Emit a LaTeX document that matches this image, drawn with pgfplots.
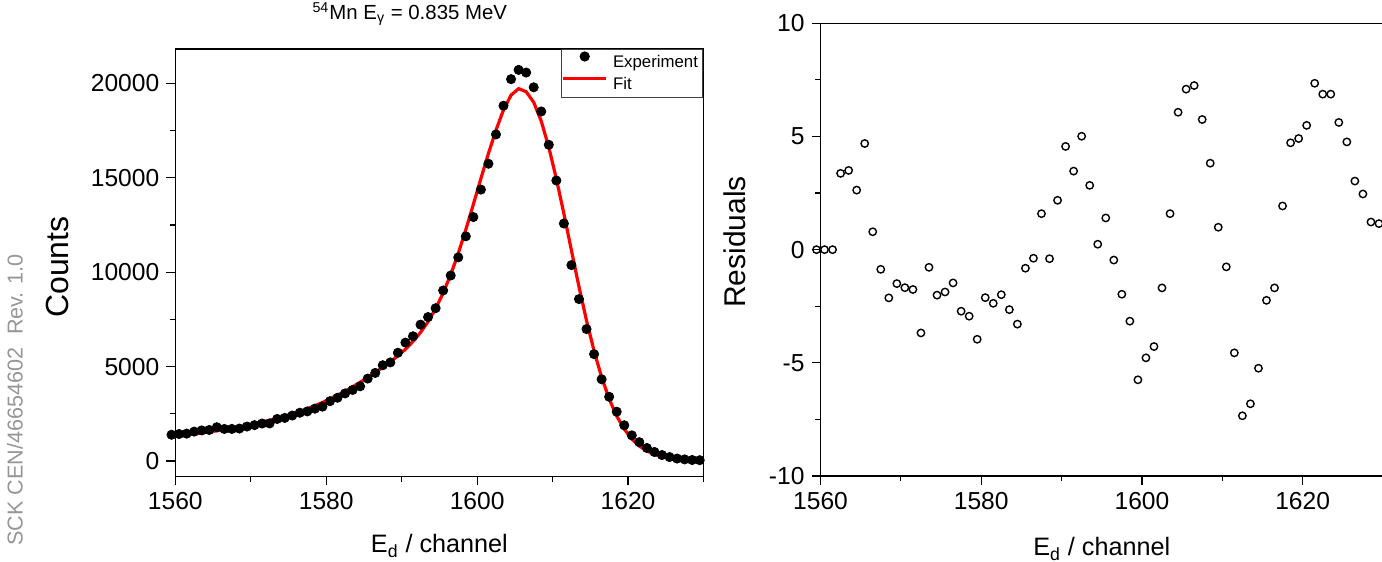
\documentclass[border=0pt]{standalone}
\usepackage{fontspec}
\setmainfont{Liberation Sans}
\usepackage{pgfplots}
\usepackage{pgfplotstable}
\pgfplotsset{compat=1.18}
\definecolor{sidegray}{RGB}{150,150,150}
\definecolor{fitred}{RGB}{255,0,0}

\pgfplotstableread{
x y
1559.5 1390
1560.5 1430
1561.5 1450
1562.5 1557
1563.5 1620
1564.5 1643
1565.5 1788
1566.5 1697
1567.5 1699
1568.5 1719
1569.5 1825
1570.5 1900
1571.5 1985
1572.5 1989
1573.5 2228
1574.5 2282
1575.5 2407
1576.5 2555
1577.5 2627
1578.5 2771
1579.5 2879
1580.5 3168
1581.5 3350
1582.5 3579
1583.5 3764
1584.5 3957
1585.5 4365
1586.5 4664
1587.5 5072
1588.5 5221
1589.5 5733
1590.5 6271
1591.5 6606
1592.5 7223
1593.5 7624
1594.5 8092
1595.5 9032
1596.5 9824
1597.5 10784
1598.5 11900
1599.5 12920
1600.5 14375
1601.5 15744
1602.5 17296
1603.5 18817
1604.5 20225
1605.5 20715
1606.5 20574
1607.5 19792
1608.5 18513
1609.5 16748
1610.5 14857
1611.5 12578
1612.5 10375
1613.5 8576
1614.5 6988
1615.5 5659
1616.5 4327
1617.5 3401
1618.5 2610
1619.5 1892
1620.5 1358
1621.5 997
1622.5 688
1623.5 478
1624.5 315
1625.5 208
1626.5 130
1627.5 85
1628.5 53
1629.5 42
}\expdata

\pgfplotstableread{
x y
1559.5 1280
1560.5 1330
1561.5 1380
1562.5 1430
1563.5 1485
1564.5 1540
1565.5 1600
1566.5 1665
1567.5 1735
1568.5 1810
1569.5 1890
1570.5 1975
1571.5 2065
1572.5 2160
1573.5 2265
1574.5 2380
1575.5 2500
1576.5 2630
1577.5 2770
1578.5 2930
1579.5 3100
1580.5 3290
1581.5 3490
1582.5 3700
1583.5 3930
1584.5 4170
1585.5 4420
1586.5 4690
1587.5 4960
1588.5 5250
1589.5 5570
1590.5 5920
1591.5 6330
1592.5 6810
1593.5 7380
1594.5 8070
1595.5 8900
1596.5 9870
1597.5 10990
1598.5 12250
1599.5 13590
1600.5 14960
1601.5 16290
1602.5 17520
1603.5 18600
1604.5 19380
1605.5 19720
1606.5 19560
1607.5 19000
1608.5 18000
1609.5 16620
1610.5 14950
1611.5 13100
1612.5 11150
1613.5 9230
1614.5 7440
1615.5 5830
1616.5 4440
1617.5 3290
1618.5 2380
1619.5 1690
1620.5 1170
1621.5 790
1622.5 530
1623.5 350
1624.5 230
1625.5 150
1626.5 100
1627.5 65
1628.5 45
1629.5 35
}\fitdata

\pgfplotstableread{
x r
1559.5 0
1560.5 0
1561.5 0
1562.5 3.37
1563.5 3.50
1564.5 2.63
1565.5 4.69
1566.5 0.79
1567.5 -0.87
1568.5 -2.13
1569.5 -1.50
1570.5 -1.68
1571.5 -1.76
1572.5 -3.68
1573.5 -0.78
1574.5 -2.01
1575.5 -1.87
1576.5 -1.47
1577.5 -2.72
1578.5 -2.94
1579.5 -3.96
1580.5 -2.12
1581.5 -2.37
1582.5 -1.99
1583.5 -2.65
1584.5 -3.29
1585.5 -0.82
1586.5 -0.38
1587.5 1.59
1588.5 -0.40
1589.5 2.18
1590.5 4.56
1591.5 3.47
1592.5 5.01
1593.5 2.84
1594.5 0.24
1595.5 1.40
1596.5 -0.46
1597.5 -1.97
1598.5 -3.16
1599.5 -5.75
1600.5 -4.78
1601.5 -4.28
1602.5 -1.69
1603.5 1.59
1604.5 6.07
1605.5 7.09
1606.5 7.25
1607.5 5.75
1608.5 3.82
1609.5 0.99
1610.5 -0.76
1611.5 -4.56
1612.5 -7.34
1613.5 -6.81
1614.5 -5.24
1615.5 -2.24
1616.5 -1.69
1617.5 1.93
1618.5 4.72
1619.5 4.91
1620.5 5.49
1621.5 7.35
1622.5 6.87
1623.5 6.87
1624.5 5.62
1625.5 4.76
1626.5 3.03
1627.5 2.46
1628.5 1.22
1629.5 1.15
}\resdata

\pgfplotsset{
  myaxis/.style={
    scale only axis,
    xmin=1560, xmax=1630,
    xtick={1560,1580,1600,1620},
    xticklabels={1560,1580,1600,1620},
    minor xtick={1570,1590,1610,1630},
    tick align=outside,
    xtick pos=bottom,
    ytick pos=left,
    major tick length=4.5pt,
    minor tick length=2.6pt,
    tick style={black, line width=0.6pt},
    axis line style={line width=0.6pt},
    tick label style={font=\fontsize{12.3}{14}\selectfont},
    scaled ticks=false,
    clip=false,
  }
}

\begin{document}
\begin{tikzpicture}[x=1pt,y=1pt]
\begin{axis}[myaxis,
  at={(87.65pt,42.75pt)}, anchor=south west,
  width=264.1pt, height=213.75pt,
  ymin=-821, ymax=21822,
  ytick={0,5000,10000,15000,20000},
  yticklabels={0,5000,10000,15000,20000},
  minor ytick={2500,7500,12500,17500},
  xlabel={E\textsubscript{d} / channel},
  xlabel style={at={(axis description cs:0.5,0)}, anchor=base, yshift=-38.25pt, font=\fontsize{12.6}{14}\selectfont},
  ylabel={Counts},
  ylabel style={at={(axis description cs:-0.2031,0.49)}, anchor=base, font=\fontsize{16}{18}\selectfont},
  title={\textsuperscript{54}Mn E\textsubscript{γ} = 0.835 MeV},
  title style={at={(axis description cs:0.444,1)}, anchor=base, yshift=8.65pt, font=\fontsize{10.2}{12}\selectfont},
  legend style={at={(axis description cs:1,1)}, anchor=north east, draw=black!75, line width=0.5pt,
    font=\fontsize{8.4}{9.5}\selectfont, inner xsep=0pt, inner ysep=1pt,
    nodes={inner xsep=2.5pt, inner ysep=1.7pt}, row sep=0pt},
  legend cell align=left,
  legend image code/.code={\draw[mark repeat=2,mark phase=2,#1] plot coordinates {(0pt,3pt) (10.85pt,3pt) (21.7pt,3pt)};},
]
\addplot[only marks, mark=*, mark size=2.3pt, black] table[x=x,y=y] {\expdata};
\addlegendentry{Experiment}
\addplot[fitred, line width=1.6pt, no marks] table[x=x,y=y] {\fitdata};
\addlegendentry{Fit}
\end{axis}

\begin{axis}[myaxis,
  at={(410.25pt,43pt)}, anchor=south west,
  width=281.25pt, height=226.35pt,
  ymin=-10, ymax=10,
  ytick={-10,-5,0,5,10},
  yticklabels={-10,-5,0,5,10},
  minor ytick={-7.5,-2.5,2.5,7.5},
  xlabel={E\textsubscript{d} / channel},
  xlabel style={at={(axis description cs:0.5,0)}, anchor=base, yshift=-40pt, font=\fontsize{12.6}{14}\selectfont},
  ylabel={Residuals},
  ylabel style={at={(axis description cs:-0.134,0.517)}, anchor=base, font=\fontsize{15}{17}\selectfont},
]
\addplot[only marks, mark=o, mark size=1.85pt, black, mark options={line width=0.7pt, fill=white}] table[x=x,y=r] {\resdata};
\end{axis}

\node[rotate=90, text=sidegray, font=\fontsize{10.8}{12}\selectfont] at (7.5,81) {SCK CEN/46654602\hspace{0.6em}Rev. 1.0};

\pgfresetboundingbox
\useasboundingbox (0,0) rectangle (691,281);
\end{tikzpicture}
\end{document}
